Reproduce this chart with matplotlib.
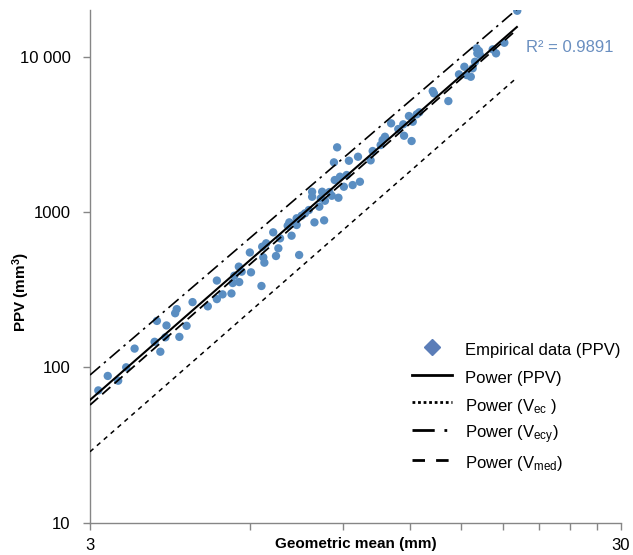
import matplotlib
matplotlib.use("Agg")
import matplotlib.pyplot as plt
from matplotlib.lines import Line2D
from matplotlib.ticker import FixedLocator, NullFormatter, NullLocator

plt.rcParams['font.family'] = ['Liberation Sans', 'DejaVu Sans']
plt.rcParams['mathtext.fontset'] = 'custom'
plt.rcParams['mathtext.rm'] = 'Liberation Sans'
plt.rcParams['mathtext.bf'] = 'Liberation Sans:bold'
plt.rcParams['mathtext.default'] = 'regular'

# empirical data: geometric mean (mm) vs PPV (mm^3)
gm = [3.11, 3.24, 3.39, 3.51, 3.64, 3.97, 4.01, 4.07, 4.16, 4.18,
      4.34, 4.37, 4.42, 4.56, 4.68, 5.00, 5.20, 5.20, 5.33, 5.54,
      5.57, 5.61, 5.72, 5.73, 5.79, 6.00, 6.03, 6.31, 6.33, 6.36,
      6.39, 6.44, 6.64, 6.72, 6.79, 6.84, 7.07, 7.12, 7.19, 7.35,
      7.35, 7.43, 7.51, 7.62, 7.75, 7.86, 7.86, 7.94, 8.11, 8.16,
      8.21, 8.28, 8.31, 8.47, 8.56, 8.64, 8.67, 8.76, 8.81, 8.87,
      9.02, 9.13, 9.22, 9.37, 9.59, 9.67, 10.13, 10.22, 10.58, 10.67,
      10.78, 11.07, 11.42, 11.67, 11.71, 11.96, 12.10, 12.16, 12.37, 12.51,
      13.26, 13.33, 14.19, 14.86, 15.21, 15.37, 15.64, 15.77, 15.93, 16.04,
      16.09, 16.21, 16.28, 17.20, 17.45, 18.09, 19.13]
ppv = [71, 88, 82, 100, 132, 146, 199, 126, 156, 186,
       223, 237, 157, 185, 263, 247, 362, 275, 295, 299,
       349, 389, 445, 354, 413, 549, 409, 334, 598, 511,
       472, 629, 740, 521, 584, 677, 816, 858, 704, 911,
       825, 529, 947, 981, 1030, 1351, 1254, 858, 1082, 1225,
       1351, 884, 1182, 1345, 1273, 2089, 1607, 2610, 1236, 1688,
       1455, 1731, 2139, 1492, 2270, 1567, 2152, 2471, 2700, 2908,
       3054, 3726, 3424, 3671, 3100, 4152, 2866, 3815, 4257, 4385,
       6013, 5812, 5184, 7702, 8622, 7623, 7433, 8420, 9286, 11327,
       10517, 10881, 10255, 11160, 10517, 12306, 19780]

# power trendlines, end points
fit_x = [3.0, 19.1]
fit_ppv = [61.6, 15540]
fit_vec = [28.6, 7330]
fit_vecy = [89.2, 20200]
fit_vmed = [57.2, 14950]

r2_text = "R² = 0.9891"
ytick_vals = [10, 100, 1000, 10000]
ytick_labels = ["10", "100", "1000", "10 000"]
xtick_major = [3, 30]
xtick_minor = [6, 9, 12, 15, 18, 21, 24, 27]

dot_color = '#5A8EC2'
axis_color = '#868686'

fig = plt.figure(figsize=(6.33, 5.55), dpi=100)
ax = fig.add_axes([90 / 633, 1 - 522.6 / 555, 531 / 633, 512.6 / 555])

ax.set_xscale('log')
ax.set_yscale('log')
ax.set_xlim(3, 30)
ax.set_ylim(10, 20000)

ax.scatter(gm, ppv, s=36, color=dot_color, edgecolors='none', zorder=2)

ax.plot(fit_x, fit_ppv, color='black', lw=1.5, zorder=3)
ax.plot(fit_x, fit_vec, color='black', lw=1.1, linestyle=(0, (3, 3)), zorder=3)
ax.plot(fit_x, fit_vecy, color='black', lw=1.2, linestyle=(0, (8, 3, 1.5, 3)), zorder=3)
ax.plot(fit_x, fit_vmed, color='black', lw=1.3, linestyle=(0, (6, 3)), zorder=3)

ax.text(19.9, 11400, r2_text, color='#6A8FC0', fontsize=12, va='center', ha='left')

# axes styling
for side in ['top', 'right']:
    ax.spines[side].set_visible(False)
for side in ['left', 'bottom']:
    ax.spines[side].set_color(axis_color)
    ax.spines[side].set_linewidth(1.0)

ax.xaxis.set_major_locator(FixedLocator(xtick_major))
ax.xaxis.set_minor_locator(FixedLocator(xtick_minor))
ax.set_xticklabels([str(v) for v in xtick_major])
ax.xaxis.set_minor_formatter(NullFormatter())
ax.yaxis.set_major_locator(FixedLocator(ytick_vals))
ax.set_yticklabels(ytick_labels)
ax.yaxis.set_minor_locator(NullLocator())
ax.tick_params(axis='both', which='both', direction='out', color=axis_color,
               width=1.0, labelsize=12, labelcolor='black')
ax.tick_params(axis='both', which='major', length=5)
ax.tick_params(axis='y', which='major', pad=9)
ax.tick_params(axis='x', which='minor', length=5)
ax.tick_params(axis='x', which='major', pad=6)

ax.set_xlabel("Geometric mean (mm)", fontsize=11, fontweight='bold')
ax.xaxis.set_label_coords(0.5, -0.028)
ax.set_ylabel(r"PPV (mm$^{\mathbf{3}}$)", fontsize=11, fontweight='bold')
ax.yaxis.set_label_coords(-0.11, 0.45)

handles = [
    Line2D([], [], marker='D', linestyle='none', color='#5B7DB8', markersize=8),
    Line2D([], [], color='black', lw=2.0),
    Line2D([], [], color='black', lw=2.0, linestyle=(0, (1, 1))),
    Line2D([], [], color='black', lw=2.0, linestyle=(0, (8, 3.5, 1, 3))),
    Line2D([], [], color='black', lw=2.0, linestyle=(0, (4.5, 4))),
]
labels = [
    "Empirical data (PPV)",
    "Power (PPV)",
    r"Power (V$_{\mathregular{ec}}$ )",
    r"Power (V$_{\mathregular{ecy}}$)",
    r"Power (V$_{\mathregular{med}}$)",
]
ax.legend(handles, labels, loc='upper left', bbox_to_anchor=(0.578, 0.387),
          frameon=False, fontsize=12, handlelength=2.4, handletextpad=0.8,
          handleheight=1.6, labelspacing=0.37)

fig.savefig("out.png", dpi=100)
